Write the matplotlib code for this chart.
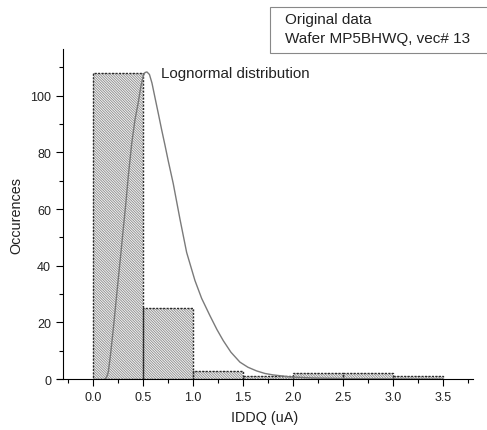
import numpy as np
import matplotlib.pyplot as plt
from matplotlib.patches import Rectangle

plt.rcParams['font.family'] = ['Liberation Sans', 'DejaVu Sans']
plt.rcParams['hatch.linewidth'] = 0.6

# histogram bins (uA) and counts
bin_left = [0.0, 0.5, 1.0, 1.5, 2.0, 2.5, 3.0]
counts = [108, 25, 3, 1, 2, 2, 1]
bin_width = 0.5

# lognormal fit curve
fit_x = [0.12, 0.137, 0.153, 0.175, 0.203, 0.228, 0.253, 0.278, 0.303, 0.33, 0.353,
         0.387, 0.42, 0.453, 0.48, 0.503, 0.52, 0.54, 0.565, 0.59, 0.62, 0.655,
         0.687, 0.72, 0.753, 0.803, 0.87, 0.937, 1.02, 1.087, 1.17, 1.24, 1.303,
         1.38, 1.47, 1.55, 1.637, 1.72, 1.80, 1.97, 2.2, 2.5, 3.0, 3.5]
fit_y = [0.0, 0.8, 2.4, 8.5, 17.6, 26.5, 35.3, 44, 53, 62.5, 71.5,
         83.0, 91.5, 97.6, 103.5, 107.0, 108.2, 108.4, 107.5, 104.5, 99.4, 93.5,
         88.0, 82.6, 77.0, 69.0, 56.5, 44.7, 34.8, 28.5, 22.4, 17.5, 13.6,
         9.5, 6.0, 4.2, 2.9, 2.0, 1.5, 0.8, 0.4, 0.2, 0.05, 0.0]

fig = plt.figure(figsize=(4.87, 4.31), dpi=100)
ax = fig.add_axes([0.117, 0.118, 0.854, 0.766])

# hatched fill, then dotted outline on top
ax.bar(bin_left, counts, width=bin_width, align='edge', facecolor='#f4f4f4',
       edgecolor='#8c8c8c', hatch='\\' * 13, linewidth=0)
ax.bar(bin_left, counts, width=bin_width, align='edge', fill=False,
       edgecolor='#2a2a2a', linewidth=1.0, linestyle=(0, (1.5, 1)))
ax.plot(fit_x, fit_y, color='#7a7a7a', linewidth=1.0)

ax.set_xlim(-0.36, 3.8)
ax.set_ylim(0, 116.5)
ax.spines['top'].set_visible(False)
ax.spines['right'].set_visible(False)
ax.spines['left'].set_position(('data', -0.30))
ax.set_xticks(np.arange(0, 3.51, 0.5))
ax.set_xticks(np.arange(-0.25, 3.8, 0.25), minor=True)
ax.set_yticks(np.arange(0, 101, 20))
ax.set_yticks(np.arange(0, 116, 10), minor=True)
ax.tick_params(which='major', direction='out', length=5, width=0.8, labelsize=9,
               labelcolor='#222222')
ax.tick_params(which='minor', direction='out', length=3, width=0.8)
ax.set_xticklabels(['%.1f' % v for v in np.arange(0, 3.51, 0.5)])

ax.set_xlabel('IDDQ (uA)', fontsize=10.4, color='#222222', labelpad=5)
ax.set_ylabel('Occurences', fontsize=10.4, color='#222222', labelpad=5)

ax.text(0.68, 108, 'Lognormal distribution', fontsize=10.9, color='#222222',
        va='center', ha='left')

# legend box, partly cut off at the right edge
fig.patches.append(Rectangle((270 / 487, 1 - 54 / 431), 0.5, 46 / 431,
                             transform=fig.transFigure, facecolor='white',
                             edgecolor='#888888', linewidth=0.8, clip_on=False))
fig.text(285 / 487, 1 - 20 / 431, 'Original data', fontsize=11, color='#222222', va='center')
fig.text(285 / 487, 1 - 39 / 431, 'Wafer MP5BHWQ, vec# 13', fontsize=11, color='#222222',
         va='center')

fig.savefig('out.png', dpi=100)
